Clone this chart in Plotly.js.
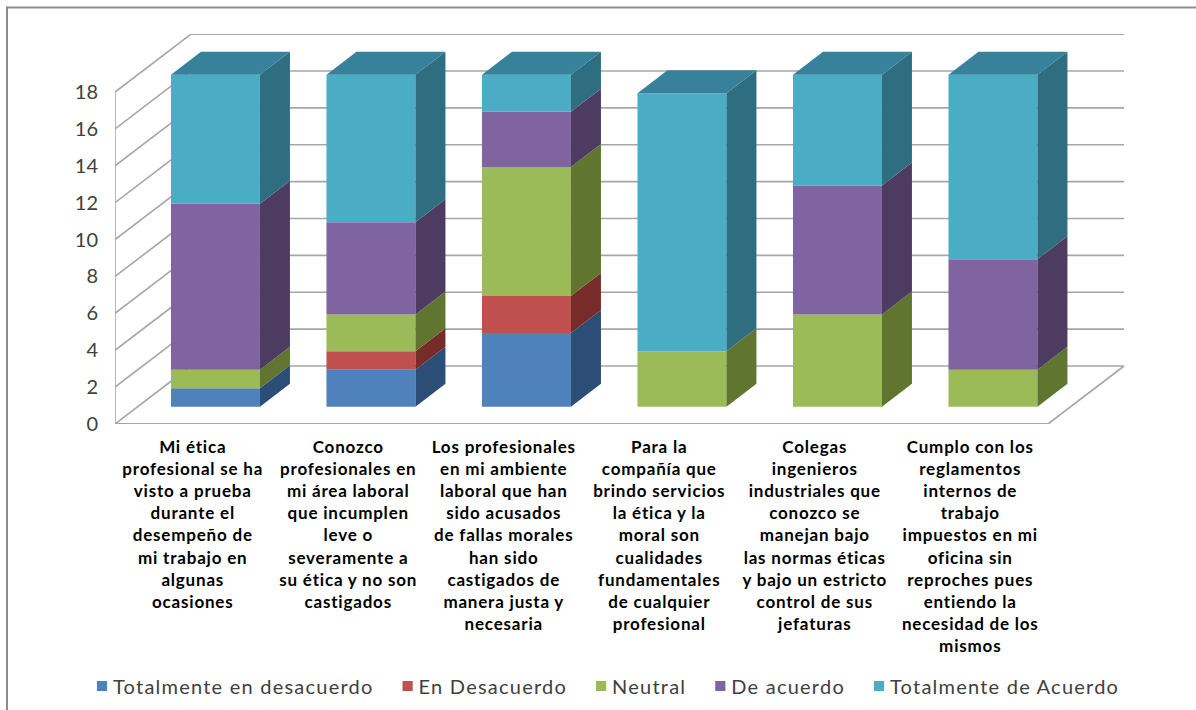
<!DOCTYPE html>
<html><head><meta charset="utf-8">
<script src="https://cdn.plot.ly/plotly-3.0.1.min.js"></script>
<style>
html,body{margin:0;padding:0;background:#fff}
#chart{width:1196px;height:710px}
.xtick text{letter-spacing:.8px}
.legendtext{letter-spacing:1.23px}
.legend .legendpoints{transform:translate(12px,0) scale(.85)}
</style></head><body><div id="chart"></div>
<script>
const categories = [
 "Mi ética<br>profesional se ha<br>visto a prueba<br>durante el<br>desempeño de<br>mi trabajo en<br>algunas<br>ocasiones",
 "Conozco<br>profesionales en<br>mi área laboral<br>que incumplen<br>leve o<br>severamente a<br>su ética y no son<br>castigados",
 "Los profesionales<br>en mi ambiente<br>laboral que han<br>sido acusados<br>de fallas morales<br>han sido<br>castigados de<br>manera justa y<br>necesaria",
 "Para la<br>compañía que<br>brindo servicios<br>la ética y la<br>moral son<br>cualidades<br>fundamentales<br>de cualquier<br>profesional",
 "Colegas<br>ingenieros<br>industriales que<br>conozco se<br>manejan bajo<br>las normas éticas<br>y bajo un estricto<br>control de sus<br>jefaturas",
 "Cumplo con los<br>reglamentos<br>internos de<br>trabajo<br>impuestos en mi<br>oficina sin<br>reproches pues<br>entiendo la<br>necesidad de los<br>mismos"
];
const totalmenteDesacuerdo = [1,2,4,0,0,0];
const enDesacuerdo         = [0,1,2,0,0,0];
const neutral              = [1,2,7,3,5,2];
const deAcuerdo            = [9,5,3,0,7,6];
const totalmenteAcuerdo    = [7,8,2,14,6,10];
const yTicks = [0,2,4,6,8,10,12,14,16,18];

const seriesDefs = [
 {name:"Totalmente en desacuerdo", v:totalmenteDesacuerdo, front:"#4F81BD", side:"#2C4D75", top:"#386594"},
 {name:"En Desacuerdo",            v:enDesacuerdo,         front:"#C0504D", side:"#772C2A", top:"#953735"},
 {name:"Neutral",                  v:neutral,              front:"#9BBB59", side:"#5F7530", top:"#779043"},
 {name:"De acuerdo",               v:deAcuerdo,            front:"#8064A2", side:"#4D3B62", top:"#604A7B"},
 {name:"Totalmente de Acuerdo",    v:totalmenteAcuerdo,    front:"#4BACC6", side:"#2E6E80", top:"#37829A"}
];

// oblique projection, in axis units (one category; one value)
const wallDx = 0.489, wallDy = 3.145;   // depth of floor/wall
const barDx  = 0.193, barDy  = 1.247;   // depth of one column
const barW = 0.572, barShift = 0.146, floorLift = 0.94;
const nCat = categories.length, yMax = 18;

const traces = [];
const totals = categories.map(()=>0);
const sideTraces = [], topX = [], topY = [];
seriesDefs.forEach(s=>{
  const base = totals.map(t=>t+floorLift);
  traces.push({type:"bar", name:s.name, x:categories.map((_,i)=>i+0.5+barShift), y:s.v, base:base,
    width:barW, marker:{color:s.front, line:{width:0}}, hoverinfo:"name+y"});
  const sx=[], sy=[];
  s.v.forEach((val,i)=>{
    if(!val) return;
    const xr = i+0.5+barShift+barW/2, b = base[i], t = b+val;
    sx.push(xr,xr+barDx,xr+barDx,xr,xr,null);
    sy.push(b,b+barDy,t+barDy,t,b,null);
  });
  sideTraces.push({type:"scatter",mode:"lines",x:sx,y:sy,fill:"toself",fillcolor:s.side,line:{width:0,color:s.side},showlegend:false,hoverinfo:"skip"});
  s.v.forEach((val,i)=>{totals[i]+=val;});
});
totals.forEach((t,i)=>{
  const xl=i+0.5+barShift-barW/2, xr=xl+barW, y=t+floorLift;
  topX.push(xl,xl+barDx,xr+barDx,xr,xl,null);
  topY.push(y,y+barDy,y+barDy,y,y,null);
});
const last = seriesDefs[seriesDefs.length-1];
const topTrace = {type:"scatter",mode:"lines",x:topX,y:topY,fill:"toself",fillcolor:last.top,line:{width:0,color:last.top},showlegend:false,hoverinfo:"skip"};

const gridColor="#A6A6A6";
const ln=(x0,y0,x1,y1,w)=>({type:"line",xref:"x",yref:"y",x0,y0,x1,y1,layer:"below",line:{color:gridColor,width:w||1.6}});
const shapes=[];
yTicks.forEach(v=>{
  shapes.push(ln(0,v,wallDx,v+wallDy));
  shapes.push(ln(wallDx,v+wallDy,nCat+wallDx,v+wallDy));
});
shapes.push(ln(0,0,0,yMax,1.6));
shapes.push(ln(0,0,nCat,0,2));
shapes.push(ln(nCat,0,nCat+wallDx,wallDy,1.6));
// chart-area frame: only its left and top edges fall inside the picture
const frame=(x0,y0,x1,y1)=>({type:"line",xref:"paper",yref:"paper",x0:(x0-115)/1081,x1:(x1-115)/1081,y0:(424-y0)/390,y1:(424-y1)/390,layer:"below",line:{color:"#8C8C8C",width:2}});
shapes.push(frame(7,7.5,1196,7.5));
shapes.push(frame(7,6.5,7,710));

const layout={
  width:1196,height:710,
  margin:{l:115,r:0,t:34,b:286,autoexpand:false},
  paper_bgcolor:"#fff",plot_bgcolor:"rgba(0,0,0,0)",
  barmode:"overlay",showlegend:true,
  font:{family:"Lato, sans-serif",color:"#404040"},
  xaxis:{range:[0,(1081/155.5)],fixedrange:true,tickmode:"array",tickvals:categories.map((_,i)=>i+0.5),ticktext:categories,
    tickangle:0,ticks:"",showgrid:false,zeroline:false,showline:false,automargin:false,ticklabelstandoff:11,
    tickfont:{family:"Lato, sans-serif",size:17,color:"#000",weight:700}},
  yaxis:{range:[0,390/18.44],fixedrange:true,tickmode:"array",tickvals:yTicks,ticktext:yTicks.map(String),ticks:"",
    showgrid:false,zeroline:false,showline:false,automargin:false,ticklabelstandoff:16,
    tickfont:{family:"Lato, sans-serif",size:20,color:"#404040"}},
  legend:{orientation:"h",x:73/1196,xanchor:"left",xref:"container",y:1-686/710,yanchor:"middle",yref:"container",
    font:{family:"Lato, sans-serif",size:20,color:"#404040"},itemclick:false,itemdoubleclick:false,bgcolor:"rgba(0,0,0,0)"},
  shapes
};
Plotly.newPlot("chart",[...traces,...sideTraces,topTrace],layout,{displayModeBar:false,responsive:false});
</script></body></html>
